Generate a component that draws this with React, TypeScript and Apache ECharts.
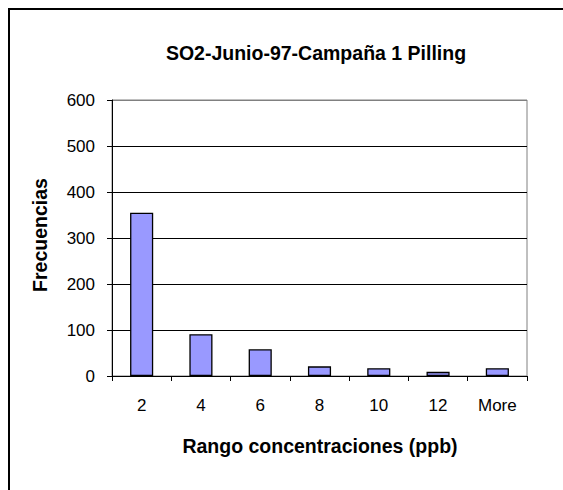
import React, { useEffect, useRef } from "react";
import * as echarts from "echarts";

const categories = ["2", "4", "6", "8", "10", "12", "More"];
const frequencies = [355, 91, 58, 21, 17, 9, 17];
const titleText = "SO2-Junio-97-Campaña 1 Pilling";
const xTitle = "Rango concentraciones (ppb)";
const yTitle = "Frecuencias";

const FONT = "'Liberation Sans', Arial, sans-serif";

export default function App() {
  const ref = useRef<HTMLDivElement>(null);
  useEffect(() => {
    if (!ref.current) return;
    const chart = echarts.init(ref.current, null, { renderer: "svg" });
    chart.setOption({
      animation: false,
      backgroundColor: "#ffffff",
      grid: {
        left: 112,
        top: 100,
        width: 415,
        height: 276,
        show: true,
        borderColor: "#808080",
        borderWidth: 1,
        backgroundColor: "transparent",
      },
      xAxis: {
        type: "category",
        data: categories,
        boundaryGap: true,
        axisLine: { show: true, lineStyle: { color: "#000", width: 1 } },
        axisTick: { show: true, length: 5, alignWithLabel: false, lineStyle: { color: "#000" } },
        axisLabel: { color: "#000", fontFamily: FONT, fontSize: 17, margin: 21 },
        splitLine: { show: false },
      },
      yAxis: {
        type: "value",
        min: 0,
        max: 600,
        interval: 100,
        axisLine: { show: true, lineStyle: { color: "#000", width: 1 } },
        axisTick: { show: true, length: 5, lineStyle: { color: "#000" } },
        axisLabel: { color: "#000", fontFamily: FONT, fontSize: 17, margin: 17 },
        splitLine: {
          show: true,
          lineStyle: {
            color: ["#000", "#000", "#000", "#000", "#000", "#000", "#808080"],
            width: 1,
          },
        },
      },
      series: [
        {
          type: "bar",
          data: frequencies,
          barWidth: "39%",
          itemStyle: { color: "#9999ff", borderColor: "#000", borderWidth: 1.3 },
        },
      ],
      graphic: [
        {
          type: "rect",
          shape: { x: 9, y: 9, width: 700, height: 700 },
          style: { fill: "none", stroke: "#000", lineWidth: 2 },
          silent: true,
        },
        {
          type: "text",
          x: 316,
          y: 53,
          style: {
            text: titleText,
            fill: "#000",
            font: `bold 19.5px ${FONT}`,
            textAlign: "center",
            textVerticalAlign: "middle",
          },
        },
        {
          type: "text",
          x: 320,
          y: 446,
          style: {
            text: xTitle,
            fill: "#000",
            font: `bold 19.5px ${FONT}`,
            textAlign: "center",
            textVerticalAlign: "middle",
          },
        },
        {
          type: "text",
          x: 40,
          y: 235,
          rotation: Math.PI / 2,
          style: {
            text: yTitle,
            fill: "#000",
            font: `bold 19.5px ${FONT}`,
            textAlign: "center",
            textVerticalAlign: "middle",
          },
        },
      ],
    });
    return () => chart.dispose();
  }, []);
  return (
    <div
      ref={ref}
      style={{ position: "absolute", left: 0, top: 0, width: 563, height: 490 }}
    />
  );
}
